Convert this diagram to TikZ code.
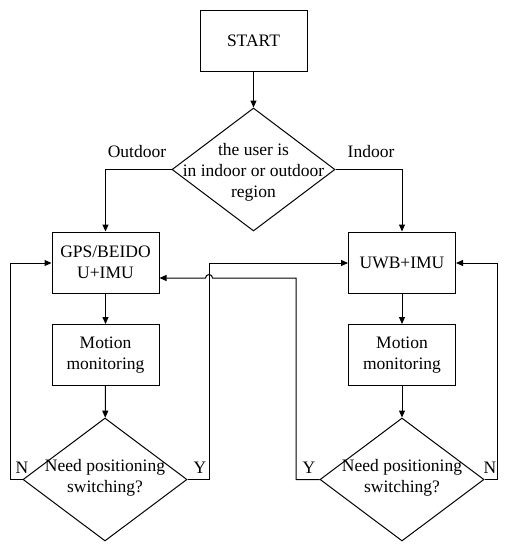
\documentclass[tikz,border=0pt]{standalone}
\usepackage{fontspec}
\setmainfont{Liberation Serif}
\usetikzlibrary{shapes.geometric,arrows.meta,calc}
\begin{document}
\begin{tikzpicture}[x=1pt,y=-1pt,
  line width=1pt,
  every node/.style={font=\fontsize{17.5}{21}\selectfont},
  box/.style={draw,rectangle,minimum width=107pt,minimum height=61pt,inner sep=0pt,align=center},
  dec/.style={draw,diamond,minimum width=164pt,minimum height=123pt,inner sep=0pt,aspect=1.33},
  txt/.style={align=center,inner sep=0pt},
  arr/.style={-{Triangle[length=7pt,width=6pt]}},
  lbl/.style={inner sep=0pt}]
\useasboundingbox (0,0) rectangle (506,550);
\node[box] (start) at (253.5,41) {START};
\node[dec,minimum width=163pt] (d1) at (253.5,169.5) {};
\node[txt] (d1t) at (253.5,172) {the user is\\in indoor or outdoor\\region};
\node[box] (gps) at (105.5,262.5) {GPS/BEIDO\\U+IMU};
\node[box] (uwb) at (402,262.5) {UWB+IMU};
\node[box] (m1) at (105.5,355) {Motion\\monitoring};
\node[box] (m2) at (402,355) {Motion\\monitoring};
\node[dec] (s1) at (105,479.5) {};
\node[txt] (s1t) at (105,478) {Need positioning\\switching?};
\node[dec] (s2) at (402,479.5) {};
\node[txt] (s2t) at (402,478) {Need positioning\\switching?};
\node[lbl] (lout) at (137,152) {Outdoor};
\node[lbl] (lin) at (371,152) {Indoor};
\node[lbl] (n1) at (22,468) {N};
\node[lbl] (y1) at (200,468) {Y};
\node[lbl] (y2) at (309,468) {Y};
\node[lbl] (n2) at (490,468) {N};
\draw[arr] (start) -- (d1);
\draw[arr] (d1.west) -| (gps.north);
\draw[arr] (d1.east) -| (uwb.north);
\draw[arr] (gps) -- (m1);
\draw[arr] (uwb) -- (m2);
\draw[arr] (m1) -- (s1);
\draw[arr] (m2) -- (s2);
\coordinate (a1) at (10,263);
\coordinate (a2) at (209,263);
\coordinate (a3) at (497,263);
\coordinate (a4) at (296,278);
\coordinate (jr) at (212.5,278);
\draw[arr] (s1.west) -| (a1) -- (a1 -| gps.west);
\draw[arr] (s1.east) -| (a2) -- (a2 -| uwb.west);
\draw[arr] (s2.east) -| (a3) -- (a3 -| uwb.east);
\draw[arr] (s2.west) -| (a4) -- (jr) arc[start angle=0,end angle=180,radius=3.5pt] -- (jr -| gps.east);
\end{tikzpicture}
\end{document}
